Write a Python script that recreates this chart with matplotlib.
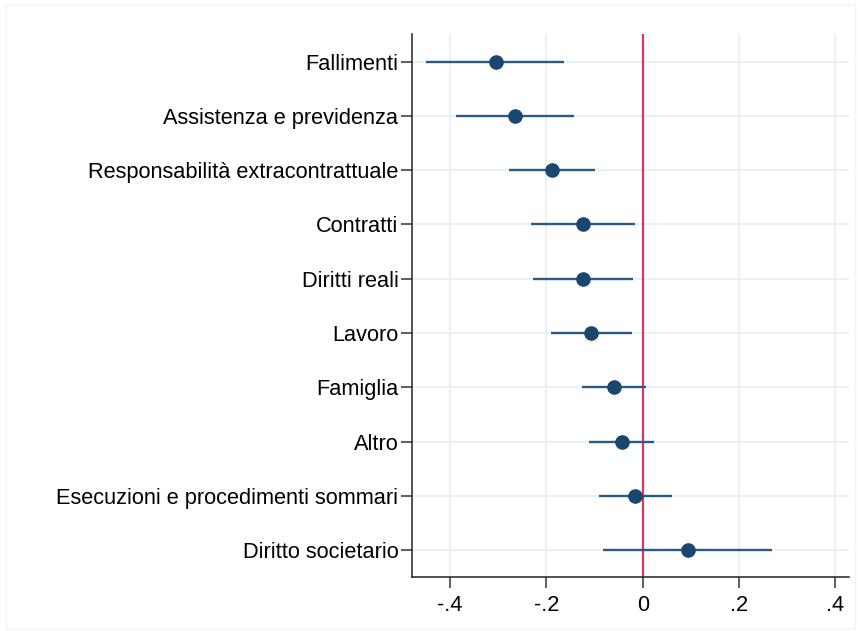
import numpy as np
import matplotlib
matplotlib.use("Agg")
import matplotlib.pyplot as plt
from matplotlib.patches import Rectangle

plt.rcParams["font.family"] = ["Liberation Sans", "DejaVu Sans"]

# Coefficient estimates and 95% confidence bounds by case type
categories = [
    "Fallimenti",
    "Assistenza e previdenza",
    "Responsabilità extracontrattuale",
    "Contratti",
    "Diritti reali",
    "Lavoro",
    "Famiglia",
    "Altro",
    "Esecuzioni e procedimenti sommari",
    "Diritto societario",
]
coef = [-0.305, -0.265, -0.188, -0.125, -0.124, -0.107, -0.060, -0.042, -0.015, 0.093]
ci_low = [-0.449, -0.387, -0.277, -0.232, -0.227, -0.190, -0.127, -0.111, -0.091, -0.082]
ci_high = [-0.163, -0.143, -0.099, -0.017, -0.021, -0.022, 0.007, 0.024, 0.060, 0.269]
x_ticks = [-0.4, -0.2, 0.0, 0.2, 0.4]
x_tick_labels = ["-.4", "-.2", "0", ".2", ".4"]

navy = "#1a476f"
grid_col = "#e8eff2"

fig = plt.figure(figsize=(8.58, 6.31), dpi=100)
ax = fig.add_axes([0.4805, 0.0861, 0.5094, 0.86])

# faint outline of the graph region
fig.patches.append(Rectangle((0.007, 0.005), 0.99, 0.988, transform=fig.transFigure,
                             fill=False, edgecolor="#f3f3f3", linewidth=1.0))

y = np.arange(1, len(categories) + 1)

for v in x_ticks:
    ax.axvline(v, color=grid_col, linewidth=1.3, zorder=0)
for yy in y:
    ax.axhline(yy, color=grid_col, linewidth=1.3, zorder=0)

ax.axvline(0, color="#d8385f", linewidth=1.6, zorder=1)

ax.hlines(y, ci_low, ci_high, color="#2b5a85", linewidth=1.7, zorder=2)
ax.plot(coef, y, "o", color=navy, markersize=9.5, zorder=3)

ax.set_xlim(-0.4785, 0.429)
ax.set_ylim(len(categories) + 0.49, 0.49)
ax.set_yticks(y)
ax.set_yticklabels(categories)
ax.set_xticks(x_ticks)
ax.set_xticklabels(x_tick_labels)

ax.tick_params(axis="both", labelsize=15.7, colors="#333333", labelcolor="black",
               length=8, width=1.1, direction="out")
ax.tick_params(axis="y", pad=2)
ax.tick_params(axis="x", pad=5)

for side in ["top", "right"]:
    ax.spines[side].set_visible(False)
for side in ["left", "bottom"]:
    ax.spines[side].set_color("#222222")
    ax.spines[side].set_linewidth(1.1)

fig.savefig("out.png", dpi=100)
